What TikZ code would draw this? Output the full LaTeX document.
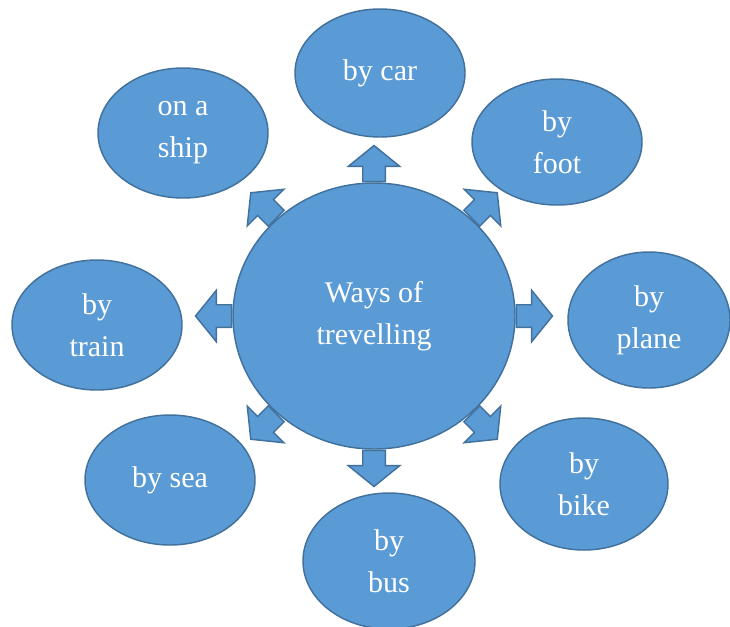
\documentclass[tikz,border=0pt]{standalone}
\usepackage{fontspec}
\setmainfont{Liberation Serif}
\usetikzlibrary{shapes.geometric,shapes.arrows}
\definecolor{bubblefill}{HTML}{5B9BD5}
\definecolor{bubbleline}{HTML}{41719C}
\begin{document}
\begin{tikzpicture}[x=0.75pt, y=-0.75pt,
  every node/.style={inner sep=0pt}
]
\tikzset{
  bubble/.style={ellipse, draw=bubbleline, fill=bubblefill, line width=1.1pt,
    text=white, align=center, font=\fontsize{22.5}{31.5}\selectfont},
  pointer/.style={single arrow, draw=bubbleline, fill=bubblefill, line width=1.1pt,
    inner xsep=0pt, inner ysep=7.9pt, single arrow head extend=10.9pt,
    single arrow tip angle=102, minimum height=27pt}
}
\useasboundingbox (0,0) rectangle (730,626);

\node[bubble, minimum width=211.5pt, minimum height=199.5pt] (hub) at (374,316) {Ways of\\trevelling};

\node[bubble, minimum width=127.5pt, minimum height=96pt] (car) at (380,73) {by car};
\node[bubble, minimum width=127.5pt, minimum height=94.5pt] (foot) at (557,142) {by\\foot};
\node[bubble, minimum width=121.5pt, minimum height=102pt] (plane) at (649,320) {by\\plane};
\node[bubble, minimum width=126pt, minimum height=99pt] (bike) at (584,484) {by\\bike};
\node[bubble, minimum width=129pt, minimum height=102pt] (bus) at (389,561) {by\\bus};
\node[bubble, minimum width=127.5pt, minimum height=97.5pt] (sea) at (170,480) {by sea};
\node[bubble, minimum width=127.5pt, minimum height=97.5pt] (train) at (97,325) {by\\train};
\node[bubble, minimum width=127.5pt, minimum height=97.5pt] (ship) at (183,133) {on a\\ship};

% arrows out of the hub
\foreach \a in {0,45,...,315}
  \node[pointer, rotate=\a, anchor=tail] (arrow\a) at (hub.\a) {};
\end{tikzpicture}
\end{document}
